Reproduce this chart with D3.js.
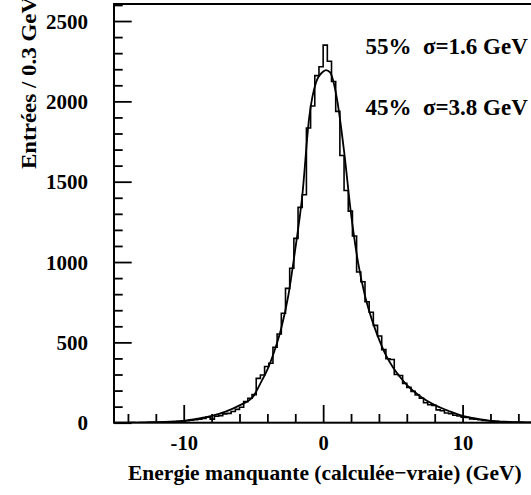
<!DOCTYPE html>
<html>
<head>
<meta charset="utf-8">
<script src="https://cdn.jsdelivr.net/npm/d3@7"></script>
<style>
  body { margin: 0; background: #fff; }
  svg text { font-family: "Liberation Serif", "Times New Roman", serif; font-weight: bold; fill: #000; }
</style>
</head>
<body>
<div id="chart"></div>
<script>
// Histogram: 100 bins of 0.3 GeV from -15 to 15
const binLow = -15, binWidth = 0.3;
const counts = [
    0, 0, 0, 0, 1, 0, 1, 1, 2, 2,            // -15 .. -12
    2, 3, 4, 5, 7, 8, 10, 12, 16, 18,        // -12 .. -9
    22, 26, 35, 22, 40, 44, 55, 58, 70, 83,  // -9 .. -6
    96, 131, 152, 175, 276, 297, 350, 370, 470, 552,        // -6 .. -3
    681, 836, 961, 1147, 1340, 1419, 1834, 1971, 2160, 2215, // -3 .. 0
    2350, 2250, 2124, 1938, 1663, 1445, 1317, 1162, 938, 877, // 0 .. 3
    753, 687, 606, 540, 455, 398, 393, 300, 294, 245,       // 3 .. 6
    220, 195, 172, 152, 124, 112, 108, 80, 74, 60,          // 6 .. 9
    56, 46, 42, 35, 32, 24, 22, 18, 14, 12,                 // 9 .. 12
    10, 8, 6, 5, 4, 3, 3, 2, 1, 1                           // 12 .. 15
];

// Fit curve
const fitX = [-15, -14, -13, -12, -11, -10, -9, -8, -7, -6, -5, -4.5, -4, -3.5, -3, -2.5, -2, -1.5, -1, -0.5,
    0, 0.2, 0.5, 1, 1.5, 2, 2.5, 3, 3.5, 4, 4.5, 5, 5.5, 6, 7, 8, 9, 10, 11, 12, 13, 14, 15];
const fitY = [0, 0.3, 1, 3, 6, 12, 25, 42, 69, 108, 165, 245, 330, 445, 590, 790, 1080, 1410, 1900, 2120,
    2185, 2195, 2180, 2010, 1690, 1300, 1000, 790, 640, 520, 420, 345, 286, 235, 162, 110, 73, 42, 25, 12, 6, 3, 1.5];

const xMajor = [-10, 0, 10];
const xMinor = [-14, -12, -8, -6, -4, -2, 2, 4, 6, 8, 12, 14];
const yMajor = [0, 500, 1000, 1500, 2000, 2500];
const yMinor = [100, 200, 300, 400, 600, 700, 800, 900, 1100, 1200, 1300, 1400,
    1600, 1700, 1800, 1900, 2100, 2200, 2300, 2400, 2600];
const notes = ["55%  σ=1.6 GeV", "45%  σ=3.8 GeV"];

const width = 531, height = 495;
const plot = { left: 114, right: 532.3, top: 4, bottom: 422.7 };

const svg = d3.select("#chart")
    .append("svg")
    .attr("width", width)
    .attr("height", height);

const x = d3.scaleLinear().domain([-15, 15]).range([plot.left, plot.right]);
const y = d3.scaleLinear().domain([0, 2606]).range([plot.bottom, plot.top]);

svg.append("clipPath").attr("id", "clip")
    .append("rect")
    .attr("x", plot.left).attr("y", plot.top)
    .attr("width", plot.right - plot.left).attr("height", plot.bottom - plot.top);

// minor ticks
svg.append("g")
    .attr("transform", "translate(0," + plot.bottom + ")")
    .call(d3.axisBottom(x).tickValues(xMinor).tickSize(-8.7).tickFormat(""))
    .call(g => g.select(".domain").remove());
svg.append("g")
    .attr("transform", "translate(" + plot.left + ",0)")
    .call(d3.axisLeft(y).tickValues(yMinor).tickSize(-8.7).tickFormat(""))
    .call(g => g.select(".domain").remove());

// major ticks with labels
const xAxis = svg.append("g")
    .attr("transform", "translate(0," + plot.bottom + ")")
    .call(d3.axisBottom(x).tickValues(xMajor).tickSize(-17.7).tickFormat(d => String(d)))
    .call(g => g.select(".domain").remove());
xAxis.selectAll("text").attr("y", 27.3).attr("dy", null).style("font-size", "20.5px");

const yAxis = svg.append("g")
    .attr("transform", "translate(" + plot.left + ",0)")
    .call(d3.axisLeft(y).tickValues(yMajor).tickSize(-17.7).tickFormat(d => String(d)))
    .call(g => g.select(".domain").remove());
yAxis.selectAll("text").attr("x", -26).attr("dy", "0.34em").style("font-size", "21px");

svg.selectAll(".tick line").attr("stroke", "#000").attr("stroke-width", 1.8);

// frame
svg.append("rect")
    .attr("x", plot.left).attr("y", plot.top)
    .attr("width", plot.right - plot.left).attr("height", plot.bottom - plot.top)
    .attr("fill", "none").attr("stroke", "#000").attr("stroke-width", 2);

// histogram outline
const histPts = counts.map((c, i) => [binLow + i * binWidth, c]);
histPts.push([binLow + counts.length * binWidth, counts[counts.length - 1]]);

const stepLine = d3.line()
    .x(d => x(d[0]))
    .y(d => y(d[1]))
    .curve(d3.curveStepAfter);

svg.append("path")
    .datum(histPts)
    .attr("clip-path", "url(#clip)")
    .attr("fill", "none")
    .attr("stroke", "#000")
    .attr("stroke-width", 1.6)
    .attr("d", stepLine);

// fit curve
const fitLine = d3.line()
    .x((d, i) => x(fitX[i]))
    .y(d => y(d))
    .curve(d3.curveMonotoneX);

svg.append("path")
    .datum(fitY)
    .attr("clip-path", "url(#clip)")
    .attr("fill", "none")
    .attr("stroke", "#000")
    .attr("stroke-width", 1.8)
    .attr("d", fitLine);

// annotations
svg.selectAll(".note")
    .data(notes)
    .enter().append("text")
    .attr("class", "note")
    .attr("x", 365.5)
    .attr("y", (d, i) => 54 + i * 60.5)
    .attr("xml:space", "preserve")
    .style("white-space", "pre")
    .style("font-size", "23px")
    .text(d => d);

// axis titles
svg.append("text")
    .attr("x", 128)
    .attr("y", 480)
    .style("font-size", "21.5px")
    .text("Energie manquante (calculée\u2212vraie) (GeV)");

svg.append("text")
    .attr("transform", "translate(36,169) rotate(-90)")
    .attr("textLength", 172)
    .attr("lengthAdjust", "spacingAndGlyphs")
    .style("font-size", "22px")
    .text("Entrées / 0.3 GeV");
</script>
</body>
</html>
